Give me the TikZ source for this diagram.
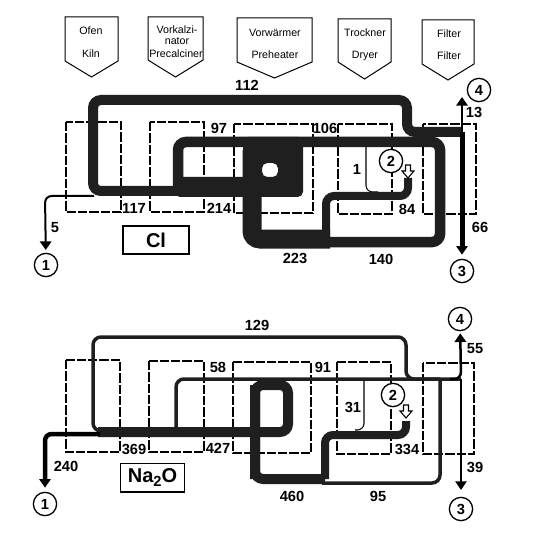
\documentclass[tikz,border=0pt]{standalone}
\usepackage{fontspec}
\setmainfont{Liberation Sans}
\usetikzlibrary{arrows.meta}
\definecolor{stip}{gray}{0.12}
\tikzset{
  x=0.75pt,y=-0.75pt,
  hdr/.style={draw=black,line width=0.75pt,fill=white,line join=miter},
  hdrtxt/.style={font=\fontsize{8}{9.5}\selectfont,align=center,inner sep=0pt},
  dbox/.style={draw=black,line width=1.1pt,dash pattern=on 7pt off 1.5pt},
  num/.style={font=\fontsize{11}{12}\selectfont\bfseries,inner sep=0pt},
  mark1/.style={draw=black,circle,line width=1pt,minimum size=17.5pt,inner sep=0pt,fill=white,font=\fontsize{11}{12}\selectfont\bfseries},
  chem/.style={draw=black,line width=1pt,font=\fontsize{15}{17}\selectfont\bfseries,inner sep=0pt},
  bandline/.style={draw=stip,line width=#1*0.75pt,rounded corners=6pt,line cap=butt},
  thinline/.style={draw=black,line width=0.8pt,rounded corners=5pt},
  flow/.style={draw=black,line width=#1*0.75pt,rounded corners=5pt},
  tip/.style={-{Triangle[width=8.5pt,length=6.5pt]}},
  hollow/.style={draw=black,fill=white,line width=0.8pt,line join=miter}
}
\newcommand{\penta}[5]{%
  \draw[hdr] (#1,#3) -- (#2,#3) -- (#2,#4) -- ({(#1+#2)/2},#5) -- (#1,#4) -- cycle;
}
\newcommand{\hollowarrow}[2]{%
  \draw[hollow] (#1-2.5,#2) -- (#1+2.5,#2) -- (#1+2.5,#2+6) -- (#1+6,#2+6) -- (#1,#2+13) -- (#1-6,#2+6) -- (#1-2.5,#2+6) -- cycle;
}
\begin{document}
\begin{tikzpicture}
\useasboundingbox (0,0) rectangle (547,535);
\fill[white] (0,0) rectangle (547,535);
% headers
\penta{65}{118}{17}{61}{77}
\penta{148}{203}{17}{60}{77}
\penta{237}{312}{18}{62}{78}
\penta{338}{391}{19}{62}{79}
\penta{422}{474}{20}{64}{80}
\node[hdrtxt] (h1a) at (91,31) {Ofen};
\node[hdrtxt] (h1b) at (91,54) {Kiln};
\node[hdrtxt,font=\fontsize{8}{8.5}\selectfont] (h2a) at (177,35) {Vorkalzi-\\nator};
\node[hdrtxt] (h2b) at (176,54) {Precalciner};
\node[hdrtxt] (h3a) at (275,33) {Vorwärmer};
\node[hdrtxt] (h3b) at (275,55) {Preheater};
\node[hdrtxt] (h4a) at (365,33) {Trockner};
\node[hdrtxt] (h4b) at (365,56) {Dryer};
\node[hdrtxt] (h5a) at (449,34) {Filter};
\node[hdrtxt] (h5b) at (449,56) {Filter};
% ---------- Cl panel ----------
\draw[dbox] (66,122) rectangle (121,212);
\draw[dbox] (150,122) rectangle (204,212);
\draw[dbox] (234,124) rectangle (313,213);
\draw[dbox] (338,124) rectangle (392,214);
\draw[dbox] (423,124) rectangle (476,214);
\coordinate (aJ) at (462,132);
\coordinate (aR) at (407,132);
\coordinate (aT) at (407,100);
\coordinate (aL) at (93,100);
\coordinate (aB) at (93,191);
\coordinate (aE) at (182,191);
\coordinate (bL) at (178,187);
\coordinate (bT) at (178,142);
\coordinate (bR) at (440,142);
\coordinate (bB) at (440,242);
\coordinate (bE) at (325,242);
\coordinate (cT) at (252,150);
\coordinate (cB) at (252,239);
\coordinate (cE) at (330,239);
\coordinate (dS) at (326,240);
\coordinate (dT) at (326,196);
\coordinate (dR) at (408,196);
\coordinate (dE) at (408,178);
\node[mark1] (c1) at (46,265) {1};
\node[mark1] (c2) at (391,161) {2};
\node[mark1] (c3) at (462,271) {3};
\node[mark1] (c4) at (479,90) {4};
\coordinate (tip4) at (462,97);
\draw[thinline] (366,146) -- (366,192) -- (378,192);
\draw[bandline=10] (aJ) -- (aR) -- (aT) -- (aL) -- (aB) -- (aE);
\draw[bandline=10.5] (bL) -- (bT) -- (bR) -- (bB) -- (bE);
\draw[bandline=19] (cT) -- (cB) -- (cE);
\draw[bandline=8] (dS) -- (dT) -- (dR) -- (dE);
\fill[stip,even odd rule,rounded corners=4pt] (243,137) rectangle (303,197) (262,163) rectangle (278,177);
\fill[stip,rounded corners=3pt] (176,177) rectangle (250,197);
\hollowarrow{408}{165}
\draw[flow=5,tip,shorten >=3pt] (aJ) -- (c3);
\draw[flow=2.5,tip] (aJ) -- (tip4);
\draw[flow=2,tip,shorten >=2pt] (94,196) -- (45,196) -- (c1);
\node[num] (n112) at (247,85) {112};
\node[num] (n97) at (219,128) {97};
\node[num] (n106) at (325,128) {106};
\node[num] (n13) at (474,112) {13};
\node[num] (n1) at (357,169) {1};
\node[num] (n117) at (134,208) {117};
\node[num] (n214) at (219,208) {214};
\node[num] (n84) at (407,209) {84};
\node[num] (n66) at (480,227) {66};
\node[num] (n5) at (55,228) {5};
\node[num] (n223) at (295,258) {223};
\node[num] (n140) at (381,259) {140};
\node[chem,minimum width=49.5pt,minimum height=21pt] (cl) at (156,240) {Cl};
% ---------- Na2O panel ----------
\draw[dbox] (66,360) rectangle (120,452);
\draw[dbox] (149,361) rectangle (204,452);
\draw[dbox] (233,362) rectangle (311,453);
\draw[dbox] (337,362) rectangle (391,454);
\draw[dbox] (423,363) rectangle (474,454);
\coordinate (eJ) at (461,379);
\coordinate (eR) at (406,379);
\coordinate (eT) at (406,337);
\coordinate (eL) at (93,337);
\coordinate (eB) at (93,431);
\coordinate (eE) at (110,431);
\coordinate (fL) at (176,431);
\coordinate (fT) at (176,379);
\coordinate (fR) at (440,379);
\coordinate (fB) at (440,483);
\coordinate (fE) at (322,483);
\coordinate (gT) at (255,385);
\coordinate (gB) at (255,479);
\coordinate (gE) at (325,479);
\coordinate (gR) at (288,385);
\coordinate (gC) at (288,432);
\coordinate (gH) at (98,432);
\coordinate (hS) at (325,479);
\coordinate (hT) at (325,435);
\coordinate (hR) at (406,435);
\coordinate (hE) at (406,421);
\coordinate (mL) at (45,434);
\coordinate (mS) at (100,434);
\coordinate (eK) at (450,379);
\node[mark1] (d1) at (45,504) {1};
\node[mark1] (d2) at (393,395) {2};
\node[mark1] (d3) at (461,509) {3};
\node[mark1] (d4) at (460,319) {4};
\draw[thinline] (364,379) -- (364,430) -- (355,430);
\draw[bandline=3.5] (eJ) -- (eR) -- (eT) -- (eL) -- (eB) -- (eE);
\draw[bandline=3.5] (fL) -- (fT) -- (fR);
\draw[bandline=3.5] (fR) -- (fB) -- (fE);
\draw[bandline=10] (gB) -- (gT) -- (gR) -- (gC) -- (gH);
\draw[bandline=10] (gT) -- (gB) -- (gE);
\draw[bandline=8] (hS) -- (hT) -- (hR) -- (hE);
\hollowarrow{406}{405}
\draw[flow=2.5,tip,shorten >=1.5pt] (eK) -- (eJ) -- (d4);
\draw[flow=1.5,tip,shorten >=5pt] (eJ) -- (d3);
\draw[flow=4.5,tip,shorten >=3pt] (mS) -- (mL) -- (d1);
\node[num] (m129) at (257,325) {129};
\node[num] (m58) at (218,367) {58};
\node[num] (m91) at (323,367) {91};
\node[num] (m55) at (475,349) {55};
\node[num] (m31) at (353,407) {31};
\node[num] (m369) at (134,449) {369};
\node[num] (m427) at (218,448) {427};
\node[num] (m334) at (407,449) {334};
\node[num] (m39) at (475,467) {39};
\node[num] (m240) at (66,466) {240};
\node[num] (m460) at (292,496) {460};
\node[num] (m95) at (378,496) {95};
\node[chem,minimum width=48pt,minimum height=21.5pt] (na) at (152.5,477.5) {Na\raisebox{-3pt}{\fontsize{11}{12}\selectfont 2}O};
\end{tikzpicture}
\end{document}
